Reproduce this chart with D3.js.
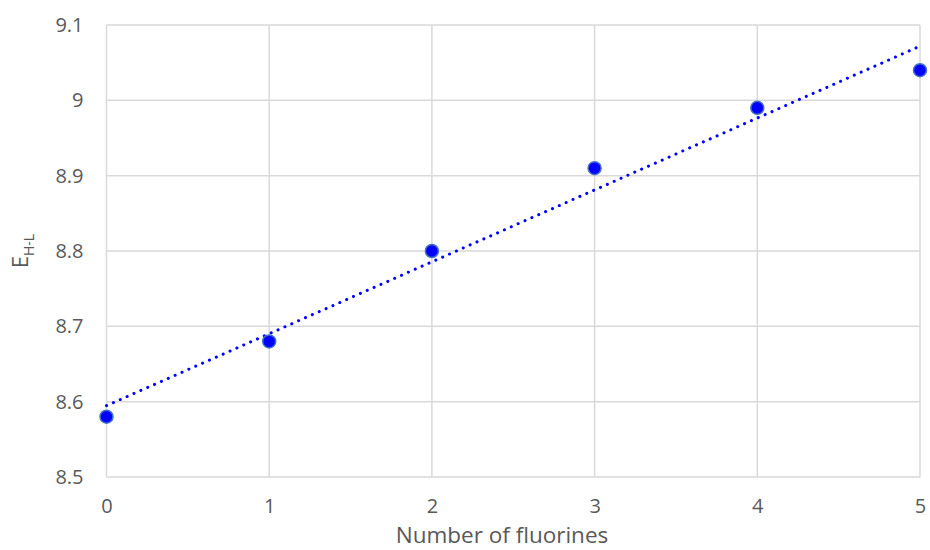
<!DOCTYPE html>
<html><head><meta charset="utf-8">
<script src="https://cdn.jsdelivr.net/npm/d3@7"></script>
<style>body{margin:0;background:#fff}svg{display:block}text{font-family:"Open Sans",sans-serif;fill:#595959}</style>
</head><body><svg id="c" width="930" height="550"></svg>
<script>
const fluorines = [0, 1, 2, 3, 4, 5];
const ehl = [8.58, 8.68, 8.80, 8.91, 8.99, 9.04];
const xTicks = [0, 1, 2, 3, 4, 5];
const yTicks = [8.5, 8.6, 8.7, 8.8, 8.9, 9.0, 9.1];

const svg = d3.select("#c");
const m = {l:106.5, r:920, t:25, b:477};
const x = d3.scaleLinear().domain([0,5]).range([m.l, m.r]);
const y = d3.scaleLinear().domain([8.5,9.1]).range([m.b, m.t]);

const grid = svg.append("g");
grid.selectAll(".gy").data(yTicks).join("line")
  .attr("x1", m.l).attr("x2", m.r).attr("y1", d=>y(d)).attr("y2", d=>y(d))
  .attr("stroke", "#d9d9d9").attr("stroke-width", 1.5);
grid.selectAll(".gx").data(xTicks).join("line")
  .attr("y1", m.t).attr("y2", m.b).attr("x1", d=>x(d)).attr("x2", d=>x(d))
  .attr("stroke", "#d9d9d9").attr("stroke-width", 1.5);

const yAxis = d3.axisLeft(y).tickValues(yTicks).tickSize(0).tickPadding(23).tickFormat(d=>d3.format("")(+d.toFixed(1)));
const ya = svg.append("g").attr("transform", `translate(${m.l},0)`).call(yAxis);
ya.select(".domain").remove();
ya.selectAll("text").attr("font-size", 20).style("font-family","'Open Sans',sans-serif").attr("fill","#595959");

const xAxis = d3.axisBottom(x).tickValues(xTicks).tickSize(0).tickPadding(22).tickFormat(d3.format("d"));
const xa = svg.append("g").attr("transform", `translate(0,${m.b})`).call(xAxis);
xa.select(".domain").remove();
xa.selectAll("text").attr("font-size", 20).style("font-family","'Open Sans',sans-serif").attr("fill","#595959");

// trendline (least squares)
const mx = d3.mean(fluorines), my = d3.mean(ehl);
const slope = d3.sum(fluorines, (v,i)=>(v-mx)*(ehl[i]-my)) / d3.sum(fluorines, v=>(v-mx)**2);
const icpt = my - slope*mx;
svg.append("path")
  .attr("d", d3.line().x(d=>x(d)).y(d=>y(icpt+slope*d))(x.domain()))
  .attr("stroke", "#0000ff").attr("stroke-width", 3).attr("fill","none")
  .attr("stroke-dasharray", "0.1 7.4").attr("stroke-linecap","round");

svg.selectAll(".pt").data(fluorines).join("circle")
  .attr("cx", d=>x(d)).attr("cy", (d,i)=>y(ehl[i])).attr("r", 6.5)
  .attr("fill", "#0000ff").attr("stroke", "#4472c4").attr("stroke-width", 1.5);

svg.append("text").attr("x", 502).attr("y", 543).attr("text-anchor","middle")
  .attr("font-size", 22.5).text("Number of fluorines");

const yl = svg.append("text").attr("transform", "translate(28,251) rotate(-90)").attr("text-anchor","middle").attr("font-size", 22);
yl.append("tspan").text("E");
yl.append("tspan").attr("font-size", 14).attr("dy", 6).text("H-L");
</script></body></html>
